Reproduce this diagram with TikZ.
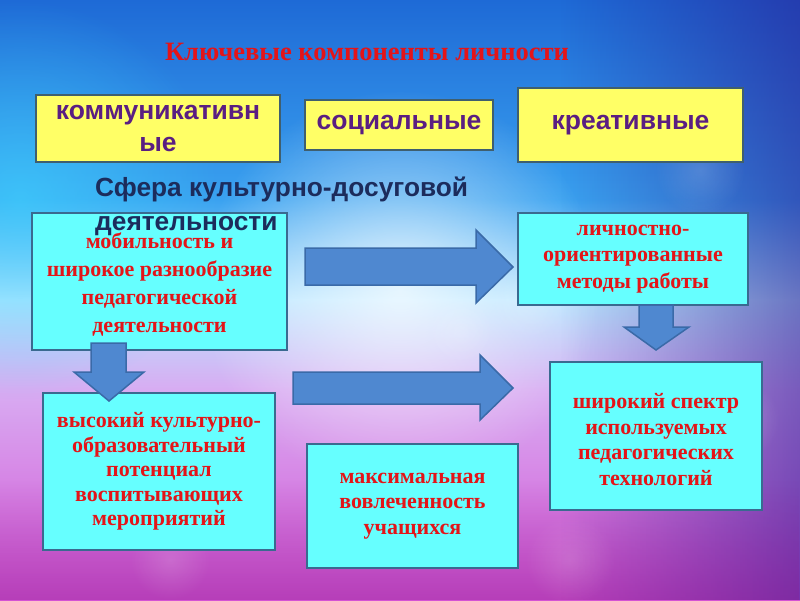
\documentclass[tikz,border=0pt]{standalone}
\usepackage{fontspec}
\setmainfont{Liberation Serif}
\newfontfamily\sansf{Liberation Sans}
\usetikzlibrary{fadings}
\tikzfading[name=glowfade, inner color=transparent!0, outer color=transparent!100]
\definecolor{redtxt}{HTML}{E41418}
\definecolor{purtxt}{HTML}{5A1E82}
\definecolor{navytxt}{HTML}{1C2C5C}
\definecolor{yfill}{HTML}{FFFF66}
\definecolor{yborder}{HTML}{3F5F6F}
\definecolor{cfill}{HTML}{66FFFF}
\definecolor{cborder}{HTML}{3A6A90}
\definecolor{afill}{HTML}{4F88D0}
\definecolor{aborder}{HTML}{3A6AA8}
\definecolor{bg1}{HTML}{1E6AD6}
\definecolor{bg2}{HTML}{3AA2F0}
\definecolor{bg3}{HTML}{B8E6FF}
\definecolor{bg4}{HTML}{D8ACF2}
\definecolor{bg5}{HTML}{D452D4}
\definecolor{darkright}{HTML}{2A1890}
\definecolor{purbot}{HTML}{8A2090}
\definecolor{cyanglow}{HTML}{40D8FF}
\tikzset{
  ybox/.style={draw=yborder, line width=2pt, fill=yfill, inner sep=0pt,
    text=purtxt, font=\sansf\bfseries\fontsize{26.5}{32}\selectfont, align=center},
  cbox/.style={draw=cborder, line width=2pt, fill=cfill, inner sep=0pt,
    text=redtxt, align=center},
  redf/.style={font=\bfseries\fontsize{22}{#1}\selectfont},
  blockarrow/.style={fill=afill, draw=aborder, line width=1.5pt, line join=miter},
  bokeh/.style={white, opacity=0.15, path fading=glowfade}
}
\begin{document}
\begin{tikzpicture}[x=1pt,y=-1pt]
\useasboundingbox (0,0) rectangle (800,600);
% background
\shade[top color=bg1, bottom color=bg2] (0,0) rectangle (800,200);
\shade[top color=bg2, bottom color=bg3] (0,199.5) rectangle (800,300);
\shade[top color=bg3, bottom color=bg4] (0,299.5) rectangle (800,390);
\shade[top color=bg4, bottom color=bg5] (0,389.5) rectangle (800,600);
\fill[darkright, opacity=0.55, path fading=west] (560,0) rectangle (800,600);
\fill[cyanglow, opacity=0.6, path fading=glowfade] (20,200) circle (200);
\fill[white, opacity=0.7, path fading=glowfade] (400,290) circle (200);
\fill[purbot, opacity=0.4, path fading=north] (0,480) rectangle (800,600);
\fill[bokeh] (700,170) circle (45);
\fill[bokeh] (740,420) circle (40);
\fill[bokeh] (530,300) circle (40);
\fill[bokeh] (570,560) circle (45);
\fill[bokeh] (170,560) circle (40);
\fill[bokeh] (460,330) circle (35);
% title
\node[text=redtxt, font=\bfseries\fontsize{26.5}{30}\selectfont] (title) at (367,52) {Ключевые компоненты личности};
% yellow boxes
\node[ybox, minimum width=244pt, minimum height=67pt] (komm) at (158,128.5) {коммуникативн\\ые};
\node[ybox, minimum width=188pt, minimum height=50pt] (soc) at (399,125) {социальные};
\node[ybox, minimum width=225pt, minimum height=74pt] (kreat) at (630.5,125) {креативные};
% cyan boxes
\node[cbox, minimum width=255pt, minimum height=137pt] (mob) at (159.5,281.5) {};
\node[redf=27.7, text=redtxt, align=center, inner sep=0pt] (mobt) at ([yshift=-3pt]mob.center)
  {мобильность и\\широкое разнообразие\\педагогической\\деятельности};
\node[cbox, redf=26.5, minimum width=230pt, minimum height=92pt] (lich) at (633,259)
  {личностно-\\ориентированные\\методы работы};
\node[cbox, redf=24.5, minimum width=232pt, minimum height=157pt] (vys) at (159,471.5)
  {высокий культурно-\\образовательный\\потенциал\\воспитывающих\\мероприятий};
\node[cbox, redf=25.5, minimum width=211pt, minimum height=124pt] (maks) at (412.5,506)
  {максимальная\\вовлеченность\\учащихся};
\node[cbox, minimum width=212pt, minimum height=148pt] (shir) at (656,436) {};
\node[redf=25.7, text=redtxt, align=center, inner sep=0pt] (shirt) at ([yshift=-3.5pt]shir.center)
  {широкий спектр\\используемых\\педагогических\\технологий};
% sphere text
\node[text=navytxt, font=\sansf\bfseries\fontsize{26.3}{34}\selectfont, align=left, anchor=west, inner sep=0pt] (sfera) at (95,206)
  {Сфера культурно-досуговой\\деятельности};
% block arrows
\draw[blockarrow] (305,248) -- (476,248) -- (476,230) -- (513,267) -- (476,303) -- (476,285) -- (305,285) -- cycle;
\draw[blockarrow] (293,372) -- (480,372) -- (480,355) -- (513,388) -- (480,420) -- (480,404) -- (293,404) -- cycle;
\draw[blockarrow] (91,343) -- (126,343) -- (126,372) -- (144,372) -- (109,401) -- (74,372) -- (91,372) -- cycle;
\draw[blockarrow] (639,305) -- (673,305) -- (673,327) -- (689,327) -- (656,350) -- (624,327) -- (639,327) -- cycle;
\end{tikzpicture}
\end{document}
